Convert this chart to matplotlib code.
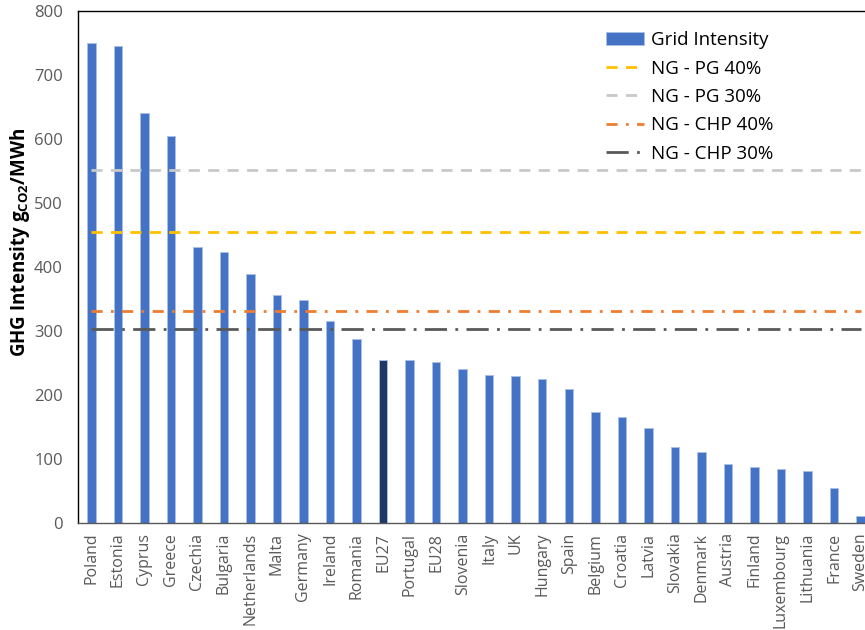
import matplotlib.pyplot as plt
import numpy as np

plt.rcParams['font.family'] = ['Open Sans', 'DejaVu Sans']

countries = ['Poland', 'Estonia', 'Cyprus', 'Greece', 'Czechia', 'Bulgaria',
             'Netherlands', 'Malta', 'Germany', 'Ireland', 'Romania', 'EU27',
             'Portugal', 'EU28', 'Slovenia', 'Italy', 'UK', 'Hungary', 'Spain',
             'Belgium', 'Croatia', 'Latvia', 'Slovakia', 'Denmark', 'Austria',
             'Finland', 'Luxembourg', 'Lithuania', 'France', 'Sweden']
grid_intensity = [750, 745, 641, 605, 431, 423, 389, 356, 349, 315, 288, 254,
                  254, 252, 240, 232, 229, 225, 209, 173, 166, 149, 119, 111,
                  93, 88, 84, 82, 55, 11]

ng_pg_40 = 455
ng_pg_30 = 551
ng_chp_40 = 331
ng_chp_30 = 303

x = np.arange(len(countries))
bar_colors = ['#203864' if c == 'EU27' else '#4472C4' for c in countries]

fig = plt.figure(figsize=(8.65, 6.3), dpi=100)
ax = fig.add_axes([0.0902, 0.1698, 0.920, 0.8127])

bars = ax.bar(x, grid_intensity, width=0.32, color=bar_colors,
              edgecolor='#A9BFE6', linewidth=0.7, label='Grid Intensity', zorder=2)

xs = [x[0], x[-1]]
l1, = ax.plot(xs, [ng_pg_40] * 2, color='#FFC000', lw=2, dashes=(4, 3),
              label='NG - PG 40%', zorder=3)
l2, = ax.plot(xs, [ng_pg_30] * 2, color='#C9C9C9', lw=2, dashes=(4, 3),
              label='NG - PG 30%', zorder=3)
l3, = ax.plot(xs, [ng_chp_40] * 2, color='#ED7D31', lw=2, dashes=(4, 3, 1, 3),
              label='NG - CHP 40%', zorder=3)
l4, = ax.plot(xs, [ng_chp_30] * 2, color='#595959', lw=2, dashes=(8, 3, 1, 3),
              label='NG - CHP 30%', zorder=3)

ax.set_xlim(-0.5, len(countries) - 0.5)
ax.set_ylim(0, 800)
ax.set_yticks(range(0, 801, 100))
ax.set_xticks(x)
ax.set_xticklabels(countries, rotation=90, fontsize=11.5, color='#595959')
ax.tick_params(axis='y', length=0, pad=11, labelsize=12, labelcolor='#595959')
ax.tick_params(axis='x', length=0, pad=7)

for s in ['left', 'top', 'right']:
    ax.spines[s].set_color('black')
    ax.spines[s].set_linewidth(1)
ax.spines['bottom'].set_color('#595959')
ax.spines['bottom'].set_linewidth(1)

ax.set_ylabel(r'GHG Intensity g$_{\mathregular{CO2}}$/MWh', fontsize=13.5,
              fontweight='bold')
ax.yaxis.set_label_coords(-0.058, 0.549)

ax.legend(handles=[bars, l1, l2, l3, l4], loc='upper left',
          bbox_to_anchor=(0.690, 0.965), bbox_transform=fig.transFigure,
          frameon=False, fontsize=13.5, handlelength=2.0, handletextpad=0.37,
          labelspacing=0.55, borderpad=0)

fig.savefig('out.png', dpi=100)
